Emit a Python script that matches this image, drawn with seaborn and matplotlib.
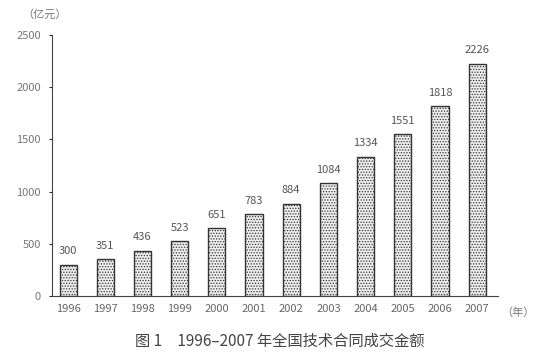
import matplotlib
matplotlib.use("Agg")
import matplotlib.pyplot as plt
import seaborn as sns
import pandas as pd

years = ["1996", "1997", "1998", "1999", "2000", "2001", "2002", "2003", "2004", "2005", "2006", "2007"]
values = [300, 351, 436, 523, 651, 783, 884, 1084, 1334, 1551, 1818, 2226]
value_labels = ["300", "351", "436", "523", "651", "783", "884", "1084", "1334", "1551", "1818", "2226"]
yticks = [0, 500, 1000, 1500, 2000, 2500]

sns.set_style("white")
plt.rcParams['font.family'] = ['Noto Sans CJK SC', 'DejaVu Sans']
plt.rcParams['hatch.color'] = '#666666'
plt.rcParams['hatch.linewidth'] = 0.6

df = pd.DataFrame({"year": years, "value": values})

fig = plt.figure(figsize=(5.54, 3.58), dpi=100)
ax = fig.add_axes([0.094, 0.173, 0.805, 0.729])
sns.barplot(data=df, x="year", y="value", color="#eeeeee", width=0.46,
            edgecolor="#333333", linewidth=1.0, ax=ax)
for p in ax.patches:
    p.set_hatch("......")

for i, (v, lab) in enumerate(zip(values, value_labels)):
    ax.text(i, v + 80, lab, ha="center", va="bottom", fontsize=8, color="#555555")

ax.set_xlim(-0.43, 11.56)
ax.set_ylim(0, 2500)
ax.set_yticks(yticks)
ax.set_yticklabels([str(t) for t in yticks], fontsize=8, color="#777777")
ax.tick_params(axis="y", length=2, width=0.8, pad=6, left=True)
ax.tick_params(axis="x", length=0, pad=6, labelsize=8, labelcolor="#666666")
ax.set_xlabel("")
ax.set_ylabel("")
sns.despine(ax=ax)
ax.spines["left"].set_color("#444444")
ax.spines["bottom"].set_color("#444444")

fig.text(45 / 554, 1 - 14 / 358, "（亿元）", ha="center", va="center", fontsize=8, color="#777777")
fig.text(518 / 554, 1 - 313 / 358, "（年）", ha="center", va="center", fontsize=8, color="#777777")
fig.text(280 / 554, 1 - 341 / 358, "图 1　1996–2007 年全国技术合同成交金额", ha="center", va="center",
         fontsize=11, color="#444444")

fig.savefig("out.png", dpi=100)
